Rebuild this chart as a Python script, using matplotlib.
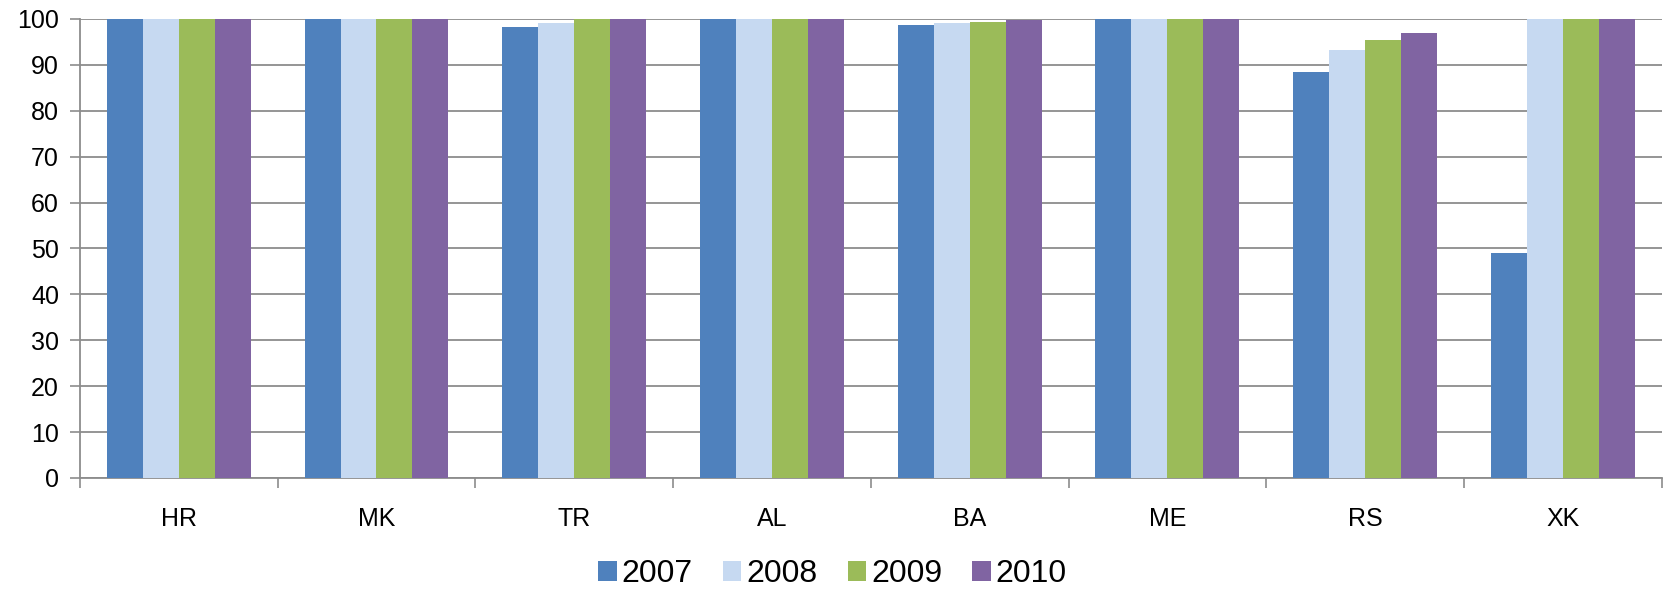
import matplotlib
matplotlib.use("Agg")
import matplotlib.pyplot as plt
import numpy as np

plt.rcParams['font.family'] = ['Liberation Sans', 'DejaVu Sans']

categories = ["HR", "MK", "TR", "AL", "BA", "ME", "RS", "XK"]
years = ["2007", "2008", "2009", "2010"]
v2007 = [100, 100, 98.3, 100, 98.6, 100, 88.5, 49.1]
v2008 = [100, 100, 99.2, 100, 99.2, 100, 93.3, 100]
v2009 = [100, 100, 100, 100, 99.3, 100, 95.4, 100]
v2010 = [100, 100, 100, 100, 99.8, 100, 97.0, 100]
series = [v2007, v2008, v2009, v2010]
colors = ["#4F81BD", "#C6D9F1", "#9BBB59", "#8064A2"]

fig = plt.figure(figsize=(16.65, 5.93), dpi=100)
ax = fig.add_axes([0.048, 0.194, 0.950, 0.774])

x = np.arange(len(categories))
bw = 0.182
for i, (vals, col, yr) in enumerate(zip(series, colors, years)):
    ax.bar(x + (i - 1.5) * bw, vals, width=bw, color=col, label=yr, zorder=3)

ax.set_xlim(-0.5, len(categories) - 0.5)
ax.set_ylim(0, 100)
ax.set_yticks(np.arange(0, 101, 10))
ax.yaxis.grid(True, color="#8C8C8C", linewidth=1.3, zorder=0)
ax.set_axisbelow(True)

# category labels centred, tick marks on category boundaries
ax.set_xticks(x)
ax.set_xticklabels(categories, fontsize=18)
ax.tick_params(axis='x', which='major', length=0, pad=21)
ax.set_xticks(np.arange(-0.5, len(categories) + 0.5, 1), minor=True)
ax.tick_params(axis='x', which='minor', length=7, width=1.2, color="#8C8C8C", direction='out')
ax.tick_params(axis='y', length=7, width=1.2, color="#8C8C8C", direction='out', labelsize=18, pad=8)

for side in ["top", "right"]:
    ax.spines[side].set_visible(False)
for side in ["left", "bottom"]:
    ax.spines[side].set_color("#8C8C8C")
    ax.spines[side].set_linewidth(1.3)

fig.legend(loc='lower center', bbox_to_anchor=(0.5, -0.042), ncol=4, frameon=False,
           fontsize=23, handlelength=0.58, handleheight=0.58, handletextpad=0.15,
           columnspacing=0.95)

fig.savefig("out.png", dpi=100)
